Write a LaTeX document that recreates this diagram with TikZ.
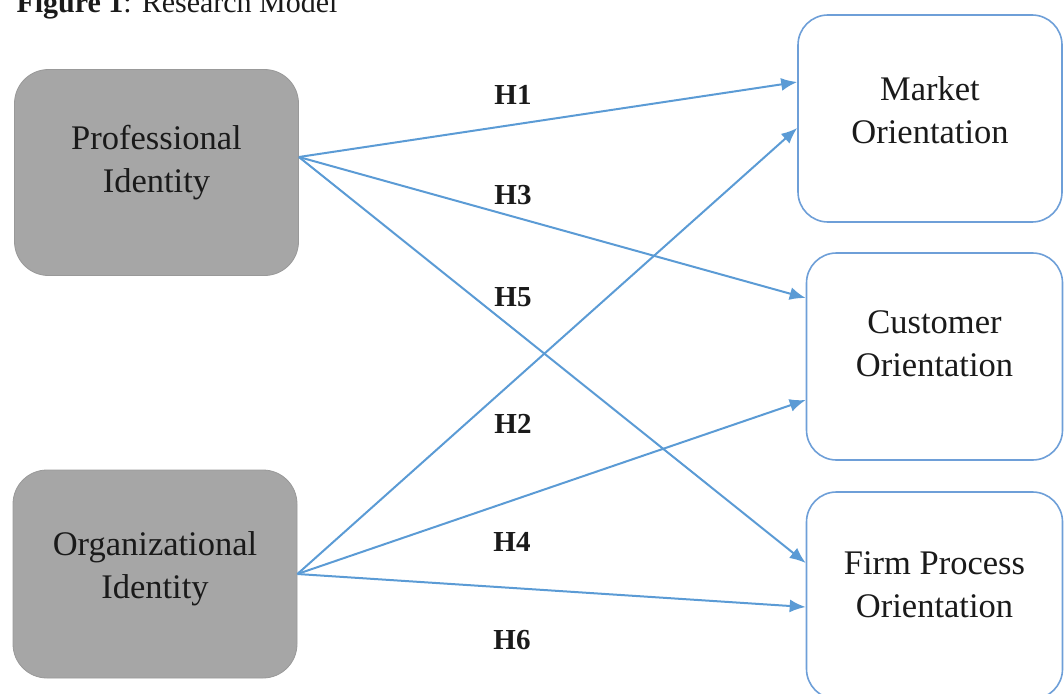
\documentclass[tikz,border=0pt]{standalone}
\usepackage{fontspec}
\setmainfont{Liberation Serif}
\usetikzlibrary{arrows.meta,positioning}
\definecolor{idgray}{HTML}{A6A6A6}
\definecolor{idedge}{HTML}{999999}
\definecolor{pathblue}{HTML}{5B9BD5}
\definecolor{boxblue}{HTML}{6E9FD8}
\definecolor{ink}{HTML}{1A1A1A}
\tikzset{
  idbox/.style={
    draw=idedge,
    fill=idgray,
    rounded corners=34pt,
    line width=0.8pt,
    minimum width=284pt,
    minimum height=206pt
  },
  orientbox/.style={
    draw=boxblue,
    fill=white,
    rounded corners=30pt,
    line width=1.6pt,
    minimum width=256pt,
    minimum height=207pt
  },
  boxtext/.style={font=\fontsize{34.5}{43}\selectfont, align=center, text=ink},
  hyplabel/.style={font=\fontsize{29}{34}\selectfont\bfseries, text=ink},
  titletext/.style={font=\fontsize{30}{36}\selectfont, text=ink},
  patharrow/.style={-{Latex[length=16pt,width=13pt]}, line width=2pt, draw=pathblue}
}
\begin{document}
\begin{tikzpicture}[x=1pt,y=-1pt]
  \useasboundingbox (0,0) rectangle (1064,693);

  \node[titletext, anchor=base west] (title) at (13,13) {\textbf{Figure 1}: Research Model};

  % identity constructs
  \node[idbox] (prof) at (156.5,172.5) {};
  \node[idbox, minimum height=208pt] (org) at (155,574) {};
  \node[boxtext] (proftxt) at ([yshift=10pt]prof.center) {Professional\\Identity};
  \node[boxtext] (orgtxt) at ([yshift=5pt]org.center) {Organizational\\Identity};

  % orientation constructs
  \node[orientbox, minimum width=264pt] (mkt) at (930,118.5) {};
  \node[orientbox] (cust) at (934.5,356.5) {};
  \node[orientbox] (firm) at (934.5,595.5) {};
  \node[boxtext] (mkttxt) at ([yshift=8pt]mkt.center) {Market\\Orientation};
  \node[boxtext] (custtxt) at ([yshift=13pt]cust.center) {Customer\\Orientation};
  \node[boxtext] (firmtxt) at ([yshift=11pt]firm.center) {Firm Process\\Orientation};

  \coordinate (profout) at ([yshift=15.5pt]prof.east);
  \coordinate (orgout) at (org.east);
  \coordinate (mktin1) at ([yshift=36.5pt]mkt.west);
  \coordinate (mktin2) at ([yshift=-9.5pt]mkt.west);
  \coordinate (custin1) at ([yshift=58.5pt]cust.west);
  \coordinate (custin2) at ([yshift=-43.5pt]cust.west);
  \coordinate (firmin1) at ([yshift=32.5pt]firm.west);
  \coordinate (firmin2) at ([yshift=-11.5pt]firm.west);

  \draw[patharrow] (profout) -- (mktin1);
  \draw[patharrow] (profout) -- (custin1);
  \draw[patharrow] (profout) -- (firmin1);
  \draw[patharrow] (orgout) -- (mktin2);
  \draw[patharrow] (orgout) -- (custin2);
  \draw[patharrow] (orgout) -- (firmin2);

  \node[hyplabel] (h1) at (513,95) {H1};
  \node[hyplabel] (h3) at (513,195) {H3};
  \node[hyplabel] (h5) at (513,297) {H5};
  \node[hyplabel] (h2) at (513,424) {H2};
  \node[hyplabel] (h4) at (512,542) {H4};
  \node[hyplabel] (h6) at (512,640) {H6};
\end{tikzpicture}
\end{document}
